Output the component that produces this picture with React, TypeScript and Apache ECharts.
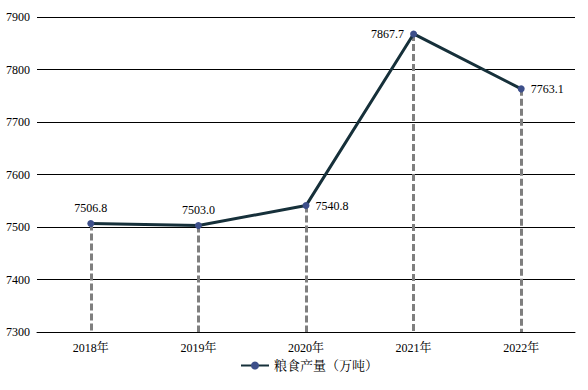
import React, { useEffect, useRef } from "react";
import * as echarts from "echarts";

const categories = ["2018年", "2019年", "2020年", "2021年", "2022年"];
const values = [7506.8, 7503.0, 7540.8, 7867.7, 7763.1];
const labelPositions = ["top", "top", "right", "left", "right"];
const seriesName = "粮食产量（万吨）";
const yMin = 7300;
const yMax = 7900;
const yInterval = 100;

const FONT = "Liberation Serif";
const CJK_FONT = "Liberation Serif, Noto Serif CJK SC, Noto Sans CJK SC";

export default function App() {
  const ref = useRef<HTMLDivElement>(null);
  useEffect(() => {
    document.body.style.margin = "0";
    if (!ref.current) return;
    const chart = echarts.init(ref.current, undefined, { renderer: "svg" });
    chart.setOption({
      animation: false,
      backgroundColor: "#ffffff",
      textStyle: { fontFamily: FONT },
      grid: {
        left: 37,
        right: 13,
        top: 17,
        bottom: 58,
        containLabel: false,
        outerBoundsMode: "none",
      },
      legend: {
        bottom: 13,
        left: 235,
        itemWidth: 28,
        itemHeight: 10,
        itemGap: 4,
        textStyle: { fontFamily: CJK_FONT, fontSize: 13, color: "#000" },
        data: [seriesName],
      },
      xAxis: {
        type: "category",
        data: categories,
        boundaryGap: true,
        axisLine: { lineStyle: { color: "#000", width: 1 } },
        axisTick: { show: false },
        axisLabel: { color: "#000", fontSize: 12, fontFamily: CJK_FONT, margin: 10 },
      },
      yAxis: {
        type: "value",
        min: yMin,
        max: yMax,
        interval: yInterval,
        axisLine: { show: false },
        axisTick: { show: false },
        axisLabel: {
          color: "#000",
          fontSize: 12,
          fontFamily: FONT,
          margin: 7,
          formatter: (v: number) => String(v),
        },
        splitLine: { lineStyle: { color: "#000", width: 1 } },
      },
      series: [
        {
          name: seriesName,
          type: "line",
          data: values.map((v, i) => ({
            value: v,
            label: { position: labelPositions[i] },
          })),
          symbol: "circle",
          symbolSize: 7,
          lineStyle: { color: "#16303a", width: 3 },
          itemStyle: { color: "#3d4f8a" },
          z: 5,
          label: {
            show: true,
            formatter: (p: any) => Number(p.value).toFixed(1),
            color: "#000",
            fontSize: 12,
            fontFamily: FONT,
            distance: 6,
          },
          markLine: {
            silent: true,
            symbol: "none",
            label: { show: false },
            lineStyle: { color: "#7f7f7f", width: 3, type: [7, 3] },
            z: 2,
            data: values.map((v, i) => [
              { coord: [i, v] },
              { coord: [i, yMin] },
            ]),
          },
        },
      ],
    });
    return () => chart.dispose();
  }, []);
  return <div ref={ref} style={{ width: 588, height: 390 }} />;
}
